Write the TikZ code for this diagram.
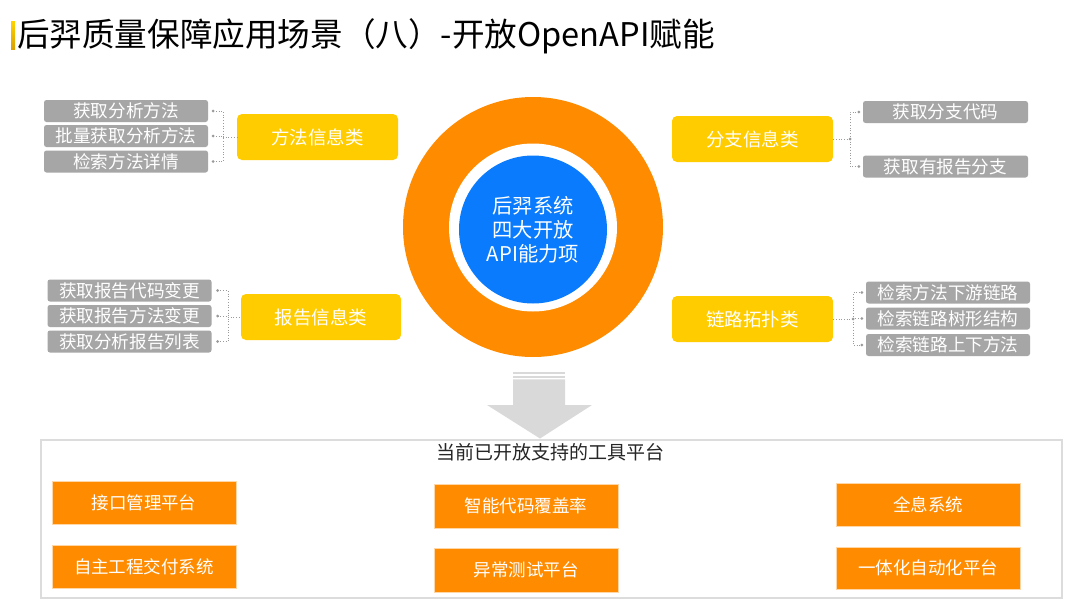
\documentclass[tikz,border=0pt]{standalone}
\usepackage{fontspec}
\setmainfont{Noto Sans CJK SC}
\definecolor{orangeC}{HTML}{FF8C00}
\definecolor{yellowC}{HTML}{FFCC00}
\definecolor{grayC}{HTML}{A6A6A6}
\definecolor{blueC}{HTML}{0A7BFC}
\definecolor{arrowC}{HTML}{D9D9D9}
\definecolor{frameC}{HTML}{DCDCDC}
\definecolor{lineC}{HTML}{9A9A9A}
\definecolor{barTop}{HTML}{FFD400}
\definecolor{barBot}{HTML}{D9A000}
\begin{document}
\begin{tikzpicture}[x=1pt,y=-1pt,
 graybox/.style={fill=grayC, rounded corners=2.5pt, minimum width=164pt, minimum height=22pt, text=white, inner sep=0pt, font=\fontsize{17.6}{17.6}\selectfont},
 ybox/.style={fill=yellowC, rounded corners=5pt, minimum width=161pt, minimum height=46pt, text=white, inner sep=0pt, font=\fontsize{18.5}{18.5}\selectfont},
 obox/.style={fill=orangeC, draw=orangeC!35, line width=0.6pt, minimum width=184pt, minimum height=43pt, text=white, inner sep=0pt, font=\fontsize{17.5}{17.5}\selectfont},
 conn/.style={draw=lineC, line width=0.7pt, dotted},
 dotc/.style={fill=lineC}]
\useasboundingbox (0,0) rectangle (1080,605);
\fill[white] (0,0) rectangle (1080,605);

% title
\shade[top color=barTop, bottom color=barBot] (11,21) rectangle (15,49);
\node[anchor=west, inner sep=0pt, font=\fontsize{32.6}{32.6}\selectfont, text=black] (title) at (17,36) {后羿质量保障应用场景（八）-开放OpenAPI赋能};

% central circle
\node[circle, fill=orangeC, minimum size=260pt, inner sep=0pt] (ring) at (533,227) {};
\node[circle, fill=white, minimum size=168pt, inner sep=0pt] (gap) at (533,227.5) {};
\node[circle, fill=blueC, minimum size=148pt, inner sep=0pt, text=white, align=center, font=\fontsize{20.3}{24}\selectfont] (core) at (533,229.5) {后羿系统\\四大开放\\API能力项};

% left top group
\node[graybox] (lt1) at (126,111) {获取分析方法};
\node[graybox] (lt2) at (126,136) {批量获取分析方法};
\node[graybox] (lt3) at (126,161.5) {检索方法详情};
\node[ybox] (lty) at (317.5,137) {方法信息类};
\coordinate (jlt) at (223,137);
\foreach \b in {lt1,lt2,lt3}{
  \draw[conn] ([xshift=5pt]\b.east) -| (jlt);
  \fill[dotc] ([xshift=5pt]\b.east) circle (1.5pt);
}
\draw[conn] (jlt) -- (lty.west);

% left bottom group
\node[graybox] (lb1) at (129.5,290.5) {获取报告代码变更};
\node[graybox] (lb2) at (129.5,316) {获取报告方法变更};
\node[graybox] (lb3) at (129.5,341.5) {获取分析报告列表};
\node[ybox, minimum width=160pt] (lby) at (321,317) {报告信息类};
\coordinate (jlb) at (228,317);
\foreach \b in {lb1,lb2,lb3}{
  \draw[conn] ([xshift=6pt]\b.east) -| (jlb);
  \fill[dotc] ([xshift=6pt]\b.east) circle (1.5pt);
}
\draw[conn] (jlb) -- (lby.west);

% right top group
\node[ybox] (rty) at (752.5,139) {分支信息类};
\node[graybox, minimum width=165pt] (rt1) at (945.5,112) {获取分支代码};
\node[graybox, minimum width=165pt] (rt2) at (945.5,166.5) {获取有报告分支};
\coordinate (jrt) at (850,139);
\draw[conn] (rty.east) -- (jrt);
\fill[dotc] (jrt) circle (1.5pt);
\foreach \b in {rt1,rt2}{
  \draw[conn] (jrt) |- ([xshift=-4pt]\b.west);
  \fill[dotc] ([xshift=-4pt]\b.west) circle (1.5pt);
}

% right bottom group
\node[ybox] (rby) at (752.5,319) {链路拓扑类};
\node[graybox] (rb1) at (948,292.5) {检索方法下游链路};
\node[graybox] (rb2) at (948,318.5) {检索链路树形结构};
\node[graybox] (rb3) at (948,345) {检索链路上下方法};
\coordinate (jrb) at (853,319);
\draw[conn] (rby.east) -- (jrb);
\fill[dotc] (jrb) circle (1.5pt);
\foreach \b in {rb1,rb2,rb3}{
  \draw[conn] (jrb) |- ([xshift=-4pt]\b.west);
  \fill[dotc] ([xshift=-4pt]\b.west) circle (1.5pt);
}

% bottom frame
\node[draw=frameC, line width=1.5pt, minimum width=1021pt, minimum height=158pt, inner sep=0pt] (frame) at (551.5,519) {};

% arrow
\fill[arrowC] (513,372.3) rectangle (565,374.2);
\fill[arrowC] (513,375.8) rectangle (565,377.5);
\fill[arrowC] (513,379.3) -- (565,379.3) -- (565,405) -- (592,405) -- (540,438.5) -- (487,405) -- (513,405) -- cycle;

\node[inner sep=0pt, font=\fontsize{19}{19}\selectfont, text=black!85] (hdr) at (550,452) {当前已开放支持的工具平台};

% platform boxes
\node[obox] (p1) at (144,502.5) {接口管理平台};
\node[obox] (p2) at (144,566.5) {自主工程交付系统};
\node[obox, minimum height=44pt] (p3) at (526,506) {智能代码覆盖率};
\node[obox, minimum height=44pt] (p4) at (526,570) {异常测试平台};
\node[obox] (p5) at (928,504.5) {全息系统};
\node[obox, minimum height=42pt] (p6) at (928,568) {一体化自动化平台};
\end{tikzpicture}
\end{document}
